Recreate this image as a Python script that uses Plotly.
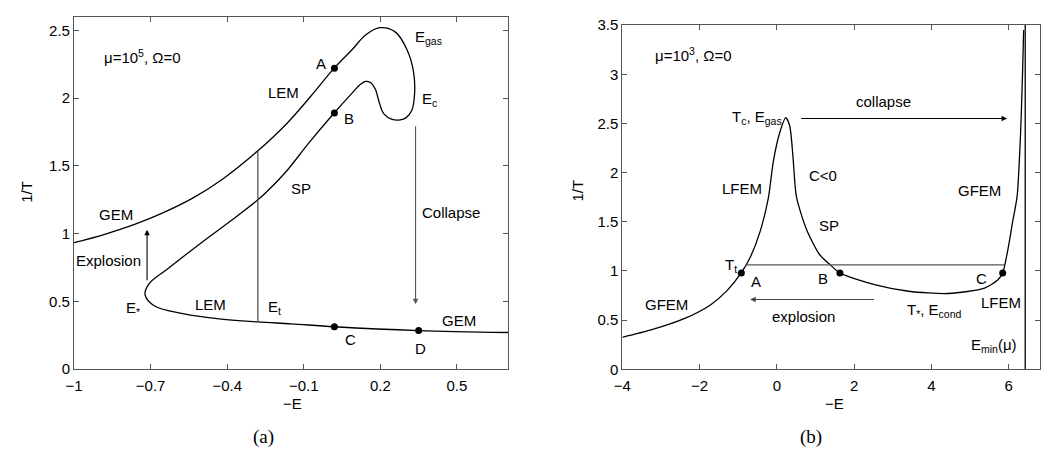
import plotly.graph_objects as go

# ---------------- data: panel (a) ----------------
a_curve_x = [-1.0, -0.88, -0.763, -0.65, -0.537, -0.42, -0.281, -0.168, -0.07, 0.019, 0.09, 0.142,
             0.198, 0.258, 0.304, 0.330, 0.334, 0.323, 0.300, 0.278, 0.246, 0.213, 0.194, 0.181,
             0.161, 0.142, 0.120, 0.090, 0.019, -0.08, -0.168, -0.246, -0.281, -0.375, -0.505,
             -0.634, -0.705, -0.722, -0.686, -0.569, -0.44, -0.281, -0.149, 0.019, 0.349, 0.70]
a_curve_y = [0.933, 0.995, 1.068, 1.155, 1.26, 1.40, 1.61, 1.81, 2.02, 2.222, 2.36, 2.467,
             2.521, 2.49, 2.36, 2.195, 2.03, 1.91, 1.855, 1.84, 1.844, 1.887, 1.98, 2.064,
             2.116, 2.124, 2.10, 2.04, 1.891, 1.67, 1.461, 1.307, 1.248, 1.11, 0.928,
             0.739, 0.632, 0.549, 0.467, 0.407, 0.372, 0.348, 0.334, 0.3125, 0.284, 0.270]
a_pts_x = [0.02, 0.02, 0.02, 0.35]
a_pts_y = [2.222, 1.891, 0.3125, 0.284]
a_et_x = [-0.28, -0.28]
a_et_y = [0.348, 1.61]
a_explosion = [(-0.714, 0.644), (-0.714, 1.028)]   # tail, head
a_collapse = [(0.338, 1.804), (0.338, 0.478)]
a_xticks = [-1, -0.7, -0.4, -0.1, 0.2, 0.5]
a_yticks = [0, 0.5, 1, 1.5, 2, 2.5]
a_labels = [
    ("μ=10<sup>5</sup>, Ω=0", -0.731, 2.308),
    ("A", -0.033, 2.254), ("B", 0.077, 1.852),
    ("E<sub>gas</sub>", 0.387, 2.45), ("E<sub>c</sub>", 0.392, 1.99),
    ("LEM", -0.181, 2.045), ("SP", -0.110, 1.330), ("GEM", -0.835, 1.141),
    ("Collapse", 0.478, 1.153), ("Explosion", -0.864, 0.803),
    ("E<sub>*</sub>", -0.770, 0.45), ("LEM", -0.466, 0.474), ("E<sub>t</sub>", -0.215, 0.455),
    ("GEM", 0.51, 0.355), ("C", 0.084, 0.218), ("D", 0.356, 0.151),
]

# ---------------- data: panel (b) ----------------
b_curve_x = [-4.0, -3.26, -2.40, -1.72, -1.29, -0.923, -0.692, -0.436, -0.221, -0.09, 0.077, 0.231,
             0.333, 0.42, 0.505, 0.76, 1.10, 1.36, 1.633, 2.556, 3.41, 4.436, 5.377, 5.718,
             5.846, 5.974, 6.103, 6.22, 6.31, 6.36, 6.39]
b_curve_y = [0.325, 0.40, 0.515, 0.655, 0.80, 0.98, 1.137, 1.398, 1.74, 2.118, 2.41, 2.559,
             2.477, 2.15, 1.758, 1.43, 1.17, 1.07, 0.98, 0.859, 0.794, 0.771, 0.826, 0.908,
             0.98, 1.202, 1.496, 1.758, 2.4, 3.0, 3.45]
b_pts_x = [-0.92, 1.633, 5.846]
b_pts_y = [0.98, 0.98, 0.98]
b_tt_x = [-0.82, 5.89]
b_tt_y = [1.062, 1.062]
b_emin_x = [6.43, 6.43]
b_emin_y = [0, 3.5]
b_collapse = [(0.59, 2.55), (5.96, 2.55)]
b_explosion = [(2.556, 0.71), (-0.69, 0.71)]
b_xticks = [-4, -2, 0, 2, 4, 6]
b_yticks = [0, 0.5, 1, 1.5, 2, 2.5, 3, 3.5]
b_labels = [
    ("μ=10<sup>3</sup>, Ω=0", -2.17, 3.196),
    ("T<sub>c</sub>, E<sub>gas</sub>", -0.52, 2.56),
    ("collapse", 2.77, 2.72), ("C<0", 1.19, 1.97), ("LFEM", -0.905, 1.84),
    ("GFEM", 5.25, 1.82), ("SP", 1.36, 1.46), ("T<sub>t</sub>", -1.2, 1.06),
    ("A", -0.54, 0.89), ("B", 1.19, 0.925), ("C", 5.31, 0.925),
    ("GFEM", -2.87, 0.663), ("explosion", 0.68, 0.54),
    ("T<sub>*</sub>, E<sub>cond</sub>", 4.09, 0.60), ("LFEM", 5.80, 0.68),
    ("E<sub>min</sub>(μ)", 5.63, 0.24),
]

W, H = 1041, 456
SANS = "Liberation Sans, Arial, sans-serif"
SERIF = "Liberation Serif, Times New Roman, serif"
AX = "#555555"

fig = go.Figure()

def line(x, y, xa, ya, color="black", width=1.3, shape="spline", smoothing=1.0):
    fig.add_trace(go.Scatter(x=x, y=y, xaxis=xa, yaxis=ya, mode="lines",
                             line=dict(color=color, width=width, shape=shape, smoothing=smoothing),
                             hoverinfo="skip", showlegend=False))

def pts(x, y, xa, ya):
    fig.add_trace(go.Scatter(x=x, y=y, xaxis=xa, yaxis=ya, mode="markers",
                             marker=dict(color="black", size=7), hoverinfo="skip", showlegend=False))

line(a_curve_x, a_curve_y, "x", "y", smoothing=1.0)
line(a_et_x, a_et_y, "x", "y", color="#444444", width=1.2, shape="linear")
pts(a_pts_x, a_pts_y, "x", "y")

line(b_curve_x, b_curve_y, "x2", "y2", smoothing=0.7)
line(b_tt_x, b_tt_y, "x2", "y2", color="#555555", width=1.2, shape="linear")
line(b_emin_x, b_emin_y, "x2", "y2", color="black", width=1.3, shape="linear")
pts(b_pts_x, b_pts_y, "x2", "y2")

ann = []
def arrow(tail, head, xr, yr, color="#333333"):
    ann.append(dict(x=head[0], y=head[1], ax=tail[0], ay=tail[1], xref=xr, yref=yr,
                    axref=xr, ayref=yr, text="", showarrow=True, arrowhead=2,
                    arrowsize=1, arrowwidth=1.1, arrowcolor=color))

arrow(*a_explosion, "x", "y", color="black")
arrow(*a_collapse, "x", "y", color="#555555")
arrow(*b_collapse, "x2", "y2", color="black")
arrow(*b_explosion, "x2", "y2", color="#444444")

LBL = 15
for t, x, y in a_labels:
    ann.append(dict(x=x, y=y, xref="x", yref="y", text=t, showarrow=False,
                    font=dict(family=SANS, size=LBL, color="black")))
for t, x, y in b_labels:
    ann.append(dict(x=x, y=y, xref="x2", yref="y2", text=t, showarrow=False,
                    font=dict(family=SANS, size=LBL, color="black")))

# axis titles and captions
for t, px, py, rot, fam, sz in [("−E", 286.7, 410, 0, SANS, 15), ("−E", 833.3, 410, 0, SANS, 15),
                                ("1/T", 18, 190, -90, SANS, 15), ("1/T", 575, 188, -90, SANS, 15),
                                ("(a)", 257, 445, 0, SERIF, 19), ("(b)", 810, 445, 0, SERIF, 19)]:
    ann.append(dict(x=px / W, y=1 - py / H, xref="paper", yref="paper", text=t, showarrow=False,
                    textangle=rot, font=dict(family=fam, size=sz, color="black"),
                    xanchor="center", yanchor="middle"))

axcommon = dict(showline=True, linecolor=AX, linewidth=1.2, mirror="ticks", ticks="inside",
                ticklen=5, tickcolor=AX, showgrid=False, zeroline=False,
                tickfont=dict(family=SANS, size=15, color="black"))

fig.update_layout(
    width=W, height=H, margin=dict(l=0, r=0, t=0, b=0),
    paper_bgcolor="white", plot_bgcolor="white",
    xaxis=dict(domain=[65.7 / W, 503.8 / W], range=[-1, 0.7], tickvals=a_xticks,
               anchor="y", ticklabelstandoff=3, **axcommon),
    yaxis=dict(domain=[(H - 374) / H, (H - 8.3) / H], range=[0, 2.6], tickvals=a_yticks,
               anchor="x", **axcommon),
    xaxis2=dict(domain=[619.3 / W, 1.0], range=[-4, -4 + (W - 619.3) / 39.0], tickvals=b_xticks,
                anchor="y2", ticklabelstandoff=3, **axcommon),
    yaxis2=dict(domain=[(H - 374.3) / H, (H - 16.7) / H], range=[0, 3.5], tickvals=b_yticks,
                anchor="x2", **axcommon),
    annotations=ann,
)

fig.write_html("out.html")
